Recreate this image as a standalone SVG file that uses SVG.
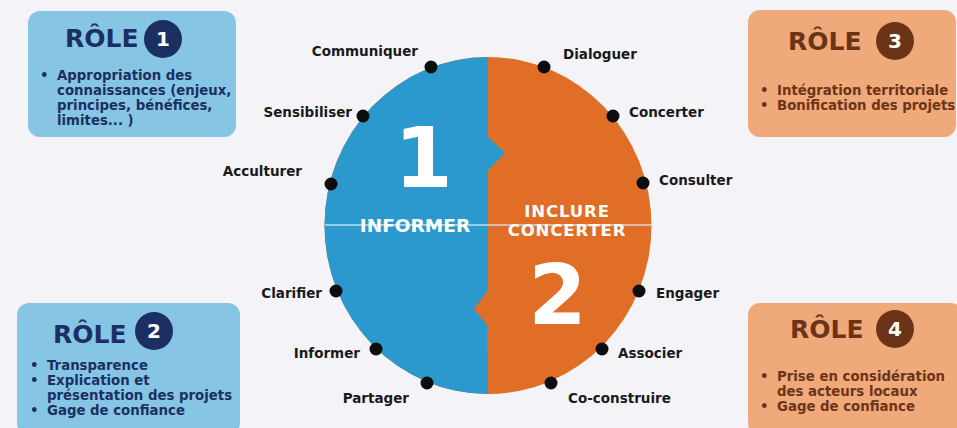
<svg xmlns="http://www.w3.org/2000/svg" width="957" height="428" viewBox="0 0 957 428">
  <style>
    .lbl { font-family: "DejaVu Sans", Verdana, sans-serif; font-weight: bold; font-size: 13.5px; fill: #1a1a1a; }
    .dot { fill: #0d0d0d; }
    .boxB { fill: #87c5e5; }
    .boxO { fill: #f0a97b; }
    .role { font-family: "DejaVu Sans", Verdana, sans-serif; font-weight: bold; font-size: 25px; }
    .num { font-family: "DejaVu Sans", Verdana, sans-serif; font-weight: bold; font-size: 20px; fill: #ffffff; text-anchor: middle; }
    .bul { font-family: "DejaVu Sans", Verdana, sans-serif; font-weight: bold; font-size: 13.3px; }
    .navy { fill: #1c2f62; }
    .brown { fill: #6c3416; }
    .big { font-family: "DejaVu Sans", Verdana, sans-serif; font-weight: bold; font-size: 84px; fill: #ffffff; text-anchor: middle; }
    .mid { font-family: "DejaVu Sans", Verdana, sans-serif; font-weight: bold; font-size: 18.5px; fill: #ffffff; text-anchor: middle; }
    .mid2 { font-family: "DejaVu Sans", Verdana, sans-serif; font-weight: bold; font-size: 16.5px; letter-spacing: 0.9px; fill: #ffffff; text-anchor: middle; }
  </style>

  <rect width="957" height="428" fill="#f4f4f8"/>

  <!-- central disc split in two halves with interlocking notches -->
  <g id="disc">
    <ellipse cx="488" cy="225.5" rx="163.5" ry="168.5" fill="#e06e27"/>
    <path d="M488,57 A163.5,168.5 0 0 0 488,394 L487,325 L474,309 L488,290 L488,170 L505,153 L488,137 Z" fill="#2b99ce"/>
    <line x1="325" y1="225" x2="652" y2="225" stroke="#d6ecf6" stroke-width="1.3" opacity="0.85"/>
    <text class="big" x="423.5" y="187">1</text>
    <text class="big" x="557.5" y="324">2</text>
    <text class="mid" x="415" y="232">INFORMER</text>
    <text class="mid2" x="567" y="217">INCLURE</text>
    <text class="mid2" x="567" y="236">CONCERTER</text>
  </g>

  <!-- action points around the disc -->
  <g id="connectors">
    <circle class="dot" cx="431" cy="67" r="6.5"/>
    <circle class="dot" cx="363" cy="116" r="6.5"/>
    <circle class="dot" cx="331" cy="184" r="6.5"/>
    <circle class="dot" cx="336" cy="291" r="6.5"/>
    <circle class="dot" cx="376" cy="349" r="6.5"/>
    <circle class="dot" cx="427" cy="383" r="6.5"/>
    <circle class="dot" cx="544" cy="67" r="6.5"/>
    <circle class="dot" cx="613" cy="116" r="6.5"/>
    <circle class="dot" cx="643" cy="183" r="6.5"/>
    <circle class="dot" cx="639" cy="291" r="6.5"/>
    <circle class="dot" cx="602" cy="349" r="6.5"/>
    <circle class="dot" cx="551" cy="383" r="6.5"/>
  </g>

  <g id="labels-left" text-anchor="end">
    <text class="lbl" x="418" y="56">Communiquer</text>
    <text class="lbl" x="352" y="117">Sensibiliser</text>
    <text class="lbl" x="302" y="176">Acculturer</text>
    <text class="lbl" x="322" y="298">Clarifier</text>
    <text class="lbl" x="360" y="358">Informer</text>
    <text class="lbl" x="409" y="403">Partager</text>
  </g>
  <g id="labels-right">
    <text class="lbl" x="563" y="59">Dialoguer</text>
    <text class="lbl" x="629" y="117">Concerter</text>
    <text class="lbl" x="659" y="185">Consulter</text>
    <text class="lbl" x="656" y="298">Engager</text>
    <text class="lbl" x="618" y="358">Associer</text>
    <text class="lbl" x="568" y="403">Co-construire</text>
  </g>

  <!-- role cards -->
  <g id="role1">
    <rect class="boxB" x="28" y="11" width="208" height="126" rx="12"/>
    <text class="role navy" x="65" y="47">RÔLE</text>
    <circle class="navy" cx="163" cy="39" r="19"/>
    <text class="num" x="163" y="46">1</text>
    <g class="bul navy">
      <text x="40" y="80">•</text>
      <text x="57" y="80">Appropriation des</text>
      <text x="57" y="95">connaissances (enjeux,</text>
      <text x="57" y="110">principes, bénéfices,</text>
      <text x="57" y="125">limites... )</text>
    </g>
  </g>

  <g id="role2">
    <rect class="boxB" x="17" y="303" width="223" height="132" rx="12"/>
    <text class="role navy" x="53" y="343">RÔLE</text>
    <circle class="navy" cx="154" cy="331" r="19"/>
    <text class="num" x="154" y="338">2</text>
    <g class="bul navy">
      <text x="30" y="370">•</text>
      <text x="47" y="370">Transparence</text>
      <text x="30" y="385">•</text>
      <text x="47" y="385">Explication et</text>
      <text x="47" y="400">présentation des projets</text>
      <text x="30" y="415">•</text>
      <text x="47" y="415">Gage de confiance</text>
    </g>
  </g>

  <g id="role3">
    <rect class="boxO" x="748" y="10" width="208" height="127" rx="12"/>
    <text class="role brown" x="788" y="50">RÔLE</text>
    <circle class="brown" cx="895" cy="41" r="19"/>
    <text class="num" x="895" y="48">3</text>
    <g class="bul brown">
      <text x="760" y="95">•</text>
      <text x="777" y="95">Intégration territoriale</text>
      <text x="760" y="110">•</text>
      <text x="777" y="110">Bonification des projets</text>
    </g>
  </g>

  <g id="role4">
    <rect class="boxO" x="748" y="303" width="215" height="132" rx="12"/>
    <text class="role brown" x="790" y="338">RÔLE</text>
    <circle class="brown" cx="895" cy="329" r="19"/>
    <text class="num" x="895" y="336">4</text>
    <g class="bul brown">
      <text x="760" y="381">•</text>
      <text x="777" y="381">Prise en considération</text>
      <text x="777" y="396">des acteurs locaux</text>
      <text x="760" y="411">•</text>
      <text x="777" y="411">Gage de confiance</text>
    </g>
  </g>
</svg>
